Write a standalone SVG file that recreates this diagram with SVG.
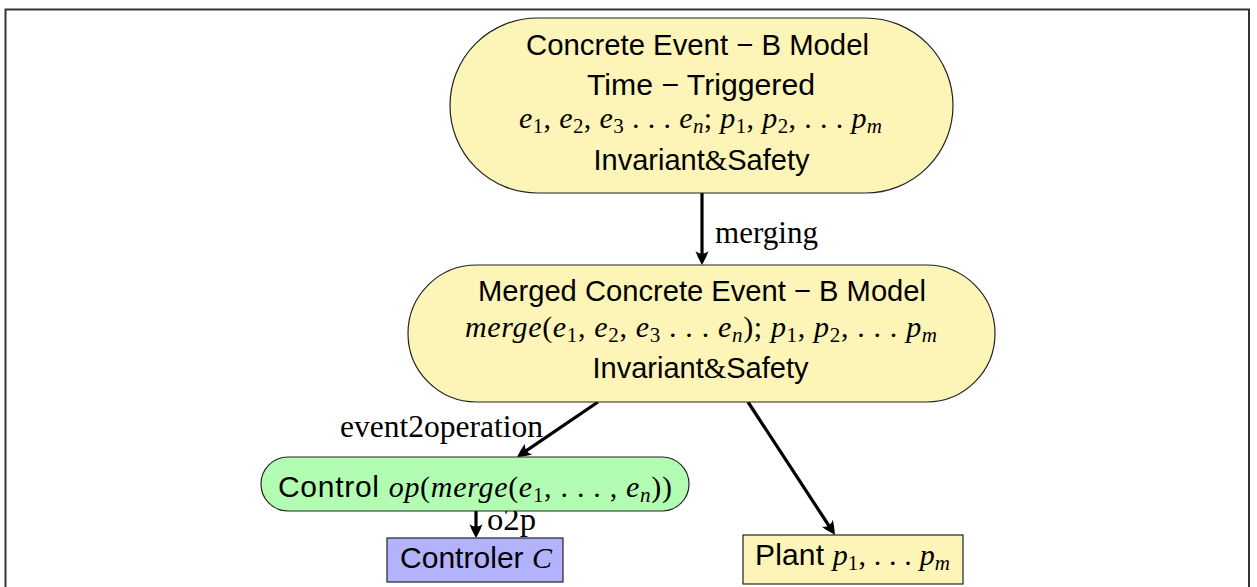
<svg xmlns="http://www.w3.org/2000/svg" width="1257" height="587" viewBox="0 0 1257 587">
<style>
.frame{fill:none;stroke:#333;stroke-width:2}
.node{stroke:#222;stroke-width:1.2}
.yel{fill:#fdf5b7}
.grn{fill:#b3fdb3}
.blu{fill:#b3b3fd}
.ss{font-family:"Liberation Sans",Arial,sans-serif;font-size:30px;fill:#000}
.inv{font-family:"Liberation Sans",Arial,sans-serif;font-size:29px;fill:#000}
.rm{font-family:"Liberation Serif","Times New Roman",serif;font-size:30px;fill:#000}
.it{font-family:"Liberation Serif","Times New Roman",serif;font-style:italic}
.up{font-family:"Liberation Serif","Times New Roman",serif;font-style:normal}
.sb{font-family:"Liberation Serif","Times New Roman",serif;font-style:normal;font-size:21px;baseline-shift:-5px}
.sbi{font-family:"Liberation Serif","Times New Roman",serif;font-style:italic;font-size:21px;baseline-shift:-5px}
.lbl{font-family:"Liberation Serif","Times New Roman",serif;font-size:31px;fill:#000}
.arr{stroke:#000;stroke-width:3.2;fill:none;marker-end:url(#ah)}
</style>
<defs>
<marker id="ah" markerUnits="userSpaceOnUse" viewBox="-15 -8 16 16" refX="-6" refY="0" markerWidth="16" markerHeight="16" orient="auto">
<path d="M0,0 C-3.5,-1.8 -8,-4.5 -14,-6.5 C-10.5,-2.2 -10.5,2.2 -14,6.5 C-8,4.5 -3.5,1.8 0,0 Z" fill="#000"/>
</marker>
</defs>
<rect class="frame" x="5.5" y="9.5" width="1243.5" height="620"/>

<g id="connectors">
<line class="arr" x1="702" y1="193" x2="702" y2="259"/>
<line class="arr" x1="598" y1="402" x2="522" y2="453.6"/>
<line class="arr" x1="748" y1="402" x2="831.7" y2="530"/>
<line class="arr" x1="476" y1="511" x2="476" y2="532"/>
<text class="lbl" x="715" y="243" textLength="103" lengthAdjust="spacingAndGlyphs">merging</text>
<text class="lbl" x="340" y="437" textLength="203" lengthAdjust="spacingAndGlyphs">event2operation</text>
<text class="lbl" x="487" y="530" textLength="49" lengthAdjust="spacingAndGlyphs">o2p</text>
</g>

<g id="node-concrete">
<rect class="node yel" x="450" y="18" width="503" height="175" rx="87.5" ry="87.5"/>
<text class="ss" x="526" y="55" textLength="343" lengthAdjust="spacingAndGlyphs">Concrete Event − B Model</text>
<text class="ss" x="587" y="95" textLength="228" lengthAdjust="spacingAndGlyphs">Time − Triggered</text>
<text class="rm" x="519" y="128" textLength="363" lengthAdjust="spacing"><tspan class="it">e</tspan><tspan class="sb">1</tspan><tspan class="up">, </tspan><tspan class="it">e</tspan><tspan class="sb">2</tspan><tspan class="up">, </tspan><tspan class="it">e</tspan><tspan class="sb">3</tspan><tspan class="up"> . . . </tspan><tspan class="it">e</tspan><tspan class="sbi">n</tspan><tspan class="up">; </tspan><tspan class="it">p</tspan><tspan class="sb">1</tspan><tspan class="up">, </tspan><tspan class="it">p</tspan><tspan class="sb">2</tspan><tspan class="up">, . . . </tspan><tspan class="it">p</tspan><tspan class="sbi">m</tspan></text>
<text class="inv" x="701.5" y="170" text-anchor="middle">Invariant<tspan class="up">&amp;</tspan>Safety</text>
</g>

<g id="node-merged">
<rect class="node yel" x="408" y="265" width="587" height="137" rx="68.5" ry="68.5"/>
<text class="ss" x="478" y="301" textLength="448" lengthAdjust="spacingAndGlyphs">Merged Concrete Event − B Model</text>
<text class="rm" x="465" y="337" textLength="472" lengthAdjust="spacing"><tspan class="it">merge</tspan><tspan class="up">(</tspan><tspan class="it">e</tspan><tspan class="sb">1</tspan><tspan class="up">, </tspan><tspan class="it">e</tspan><tspan class="sb">2</tspan><tspan class="up">, </tspan><tspan class="it">e</tspan><tspan class="sb">3</tspan><tspan class="up"> . . . </tspan><tspan class="it">e</tspan><tspan class="sbi">n</tspan><tspan class="up">); </tspan><tspan class="it">p</tspan><tspan class="sb">1</tspan><tspan class="up">, </tspan><tspan class="it">p</tspan><tspan class="sb">2</tspan><tspan class="up">, . . . </tspan><tspan class="it">p</tspan><tspan class="sbi">m</tspan></text>
<text class="inv" x="700.5" y="378" text-anchor="middle">Invariant<tspan class="up">&amp;</tspan>Safety</text>
</g>

<g id="node-control">
<rect class="node grn" x="261" y="457" width="428" height="54" rx="27" ry="27"/>
<text class="ss" x="278" y="497" textLength="394" lengthAdjust="spacing">Control <tspan class="it">op</tspan><tspan class="up">(</tspan><tspan class="it">merge</tspan><tspan class="up">(</tspan><tspan class="it">e</tspan><tspan class="sb">1</tspan><tspan class="up">, . . . , </tspan><tspan class="it">e</tspan><tspan class="sbi">n</tspan><tspan class="up">))</tspan></text>
</g>

<g id="node-controler">
<rect class="node blu" x="387" y="538" width="176" height="44"/>
<text class="ss" x="400" y="568" textLength="152" lengthAdjust="spacing">Controler <tspan class="it">C</tspan></text>
</g>

<g id="node-plant">
<rect class="node yel" x="743" y="535" width="220" height="49"/>
<text class="ss" x="755" y="565" textLength="195" lengthAdjust="spacing">Plant <tspan class="it">p</tspan><tspan class="sb">1</tspan><tspan class="up">, . . . </tspan><tspan class="it">p</tspan><tspan class="sbi">m</tspan></text>
</g>
</svg>
